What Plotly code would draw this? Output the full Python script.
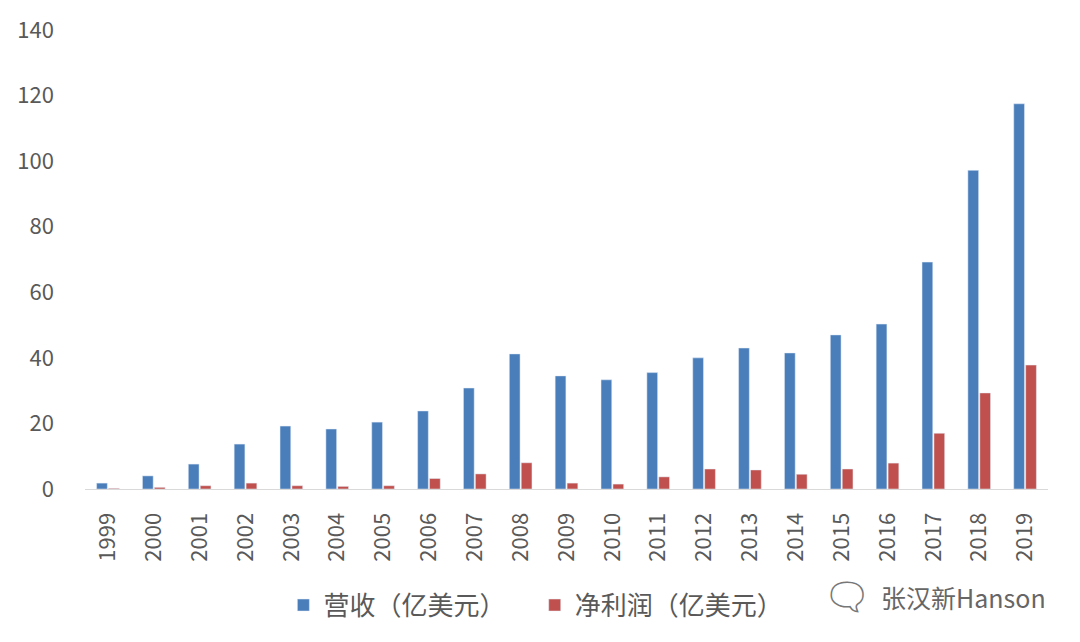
import plotly.graph_objects as go

years = [str(y) for y in range(1999, 2020)]
revenue = [1.8, 4.0, 7.6, 13.7, 19.2, 18.3, 20.4, 23.8, 30.8, 41.2, 34.5,
           33.3, 35.5, 40.0, 43.0, 41.5, 47.0, 50.3, 69.2, 97.2, 117.5]
net_profit = [0.2, 0.5, 1.0, 1.8, 1.0, 0.8, 1.0, 3.2, 4.6, 8.0, 1.8,
              1.5, 3.7, 6.1, 5.8, 4.5, 6.1, 7.9, 17.0, 29.3, 37.8]
y_ticks = [0, 20, 40, 60, 80, 100, 120, 140]

font_family = "Noto Sans CJK SC, Noto Sans, sans-serif"
grey = "#595959"

fig = go.Figure()
fig.add_trace(go.Bar(x=years, y=revenue, name="营收（亿美元）",
                     marker_color="#4a7ebb", legend="legend"))
fig.add_trace(go.Bar(x=years, y=net_profit, name="净利润（亿美元）",
                     marker_color="#c0504d", legend="legend2"))

legend_style = dict(orientation="h", xanchor="left", y=-0.253, yanchor="middle",
                    font=dict(size=26, color=grey), itemwidth=30,
                    bgcolor="rgba(0,0,0,0)")

# page body has an 8px default margin, so margins are shifted to compensate
fig.update_layout(
    width=1080, height=642,
    margin=dict(l=77, r=40, t=22, b=161),
    plot_bgcolor="white", paper_bgcolor="white",
    barmode="group", bargap=0.48, bargroupgap=0.1,
    font=dict(family=font_family, color=grey),
    showlegend=True,
    legend=dict(x=0.206, **legend_style),
    legend2=dict(x=0.467, **legend_style),
)
fig.update_yaxes(range=[0, 140], tickvals=y_ticks, showgrid=False, zeroline=False,
                 showline=False, tickfont=dict(size=22, color=grey), ticks="",
                 ticklabelstandoff=30, automargin=False)
fig.update_xaxes(showline=True, linecolor="#d9d9d9", linewidth=1, tickangle=-90,
                 tickfont=dict(size=22, color=grey), ticks="", showgrid=False,
                 ticklabelstandoff=14, automargin=False)

fig.add_annotation(text="张汉新Hanson", xref="paper", yref="paper",
                   x=1.0, y=-0.235, xanchor="right", yanchor="middle", showarrow=False,
                   font=dict(size=25, color="#666666", family=font_family))
fig.add_annotation(text="🗨", xref="paper", yref="paper",
                   x=0.818, y=-0.235, xanchor="right", yanchor="middle", showarrow=False,
                   font=dict(size=38, color="#777777", family="DejaVu Sans"))

fig.write_html("out.html")
